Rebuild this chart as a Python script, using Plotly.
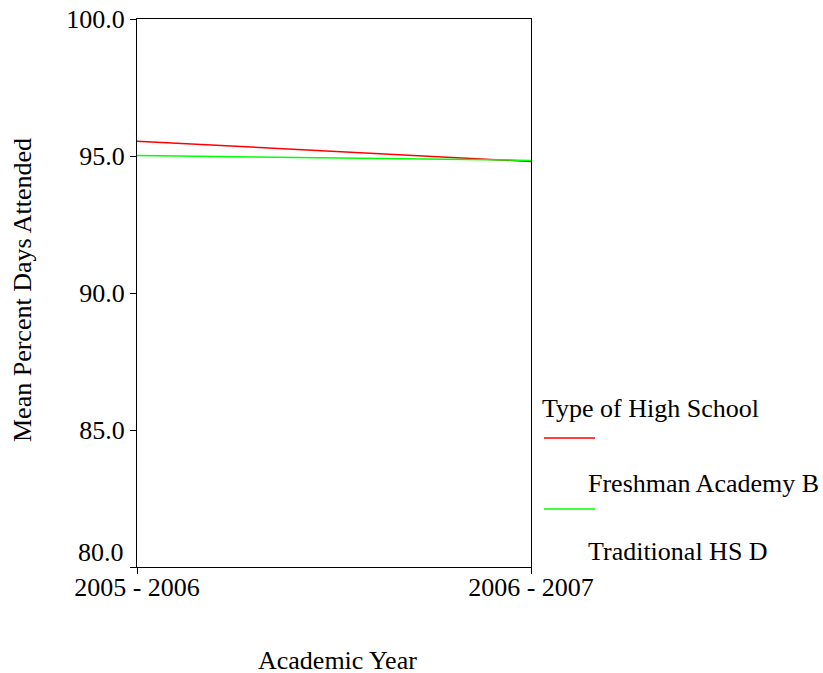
import plotly.graph_objects as go

years = ["2005 - 2006", "2006 - 2007"]
freshman_academy = [95.54, 94.80]
traditional_hs = [95.02, 94.84]
series_names = ["Freshman Academy B", "Traditional HS D"]
series_colors = ["#FF0000", "#00FF00"]
y_ticks = [80, 85, 90, 95, 100]
y_ticktext = ["", "85.0", "90.0", "95.0", "100.0"]

FONT = "Liberation Serif, Times New Roman, serif"
FS = 26

fig = go.Figure()
for name, vals, col in zip(series_names, [freshman_academy, traditional_hs], series_colors):
    fig.add_trace(go.Scatter(x=years, y=vals, mode="lines", name=name,
                             line=dict(color=col, width=1.5), showlegend=False))

W, H = 823, 673
L, R, T, B = 137, 531, 19, 567
pw, ph = R - L, B - T

def px(x):
    return (x - L) / pw

def py(y):
    return (B - y) / ph

axis_common = dict(showgrid=False, zeroline=False, automargin=False,
                   showline=True, linecolor="black", linewidth=1.2, mirror=True,
                   ticks="outside", ticklen=6, tickcolor="black", tickwidth=1.2,
                   ticklabeloverflow="allow",
                   tickfont=dict(family=FONT, size=FS, color="black"))

fig.update_layout(
    template="none",
    width=W, height=H,
    margin=dict(l=L, r=W - R, t=T, b=H - B, pad=0),
    paper_bgcolor="white", plot_bgcolor="white",
    font=dict(family=FONT, size=FS, color="black"),
    xaxis=dict(type="category", range=[0, 1], ticklabelstandoff=-9, **axis_common),
    yaxis=dict(range=[80, 100], tickvals=y_ticks, ticktext=y_ticktext, **axis_common),
)

ann = [
    dict(text="80.0", x=px(126), y=py(552), xanchor="right", yanchor="middle"),
    dict(text="Academic Year", x=px(337), y=py(660), xanchor="center", yanchor="middle"),
    dict(text="Mean Percent Days Attended", x=px(22), y=py(290), textangle=-90,
         xanchor="center", yanchor="middle"),
    dict(text="Type of High School", x=px(540), y=py(408), xanchor="left", yanchor="middle"),
    dict(text=series_names[0], x=px(586), y=py(483), xanchor="left", yanchor="middle"),
    dict(text=series_names[1], x=px(586), y=py(551), xanchor="left", yanchor="middle"),
]
for a in ann:
    fig.add_annotation(xref="paper", yref="paper", showarrow=False,
                       font=dict(family=FONT, size=FS, color="black"), **a)

for yy, col in zip([438, 509], series_colors):
    fig.add_shape(type="line", xref="paper", yref="paper",
                  x0=px(544), x1=px(595), y0=py(yy), y1=py(yy),
                  line=dict(color=col, width=1.5))

fig.write_html("out.html", config={"displayModeBar": False},
               post_script="document.body.style.margin='0';document.body.style.overflow='hidden';")
